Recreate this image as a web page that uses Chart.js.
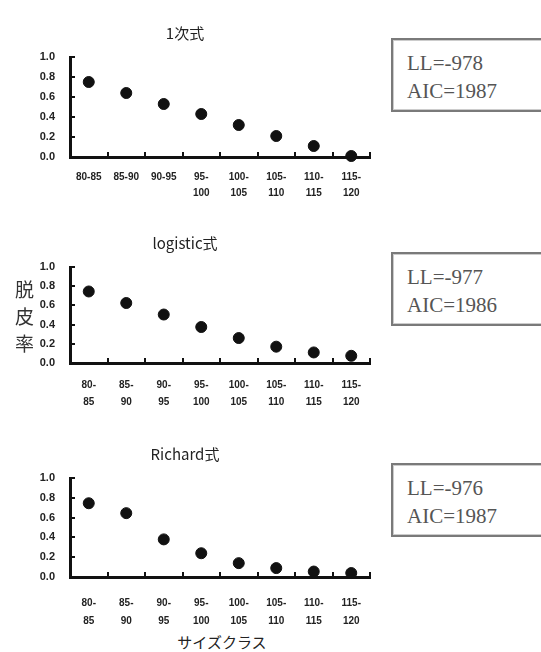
<!DOCTYPE html>
<html>
<head>
<meta charset="utf-8">
<script src="https://cdn.jsdelivr.net/npm/chart.js@4"></script>
<style>
  body { margin: 0; background: #fff; width: 541px; height: 652px; position: relative; overflow: hidden; }
  .plot { position: absolute; left: 0; width: 390px; }
  .box {
    position: absolute; left: 391px; width: 170px; height: 74px;
    border: 2px solid #7a7a7a; box-shadow: inset 0 0 0 1px #ccc;
    font-family: "Liberation Serif", serif; font-size: 21px; color: #555;
    line-height: 28px; padding: 9px 0 0 14px; box-sizing: border-box;
  }
  .ytitle {
    position: absolute; left: 11px; top: 280px;
    writing-mode: vertical-rl; text-orientation: upright;
    font-family: "Noto Sans CJK JP", sans-serif; font-size: 19px; letter-spacing: 8px; color: #333;
  }
  .xtitle {
    position: absolute; left: 172px; top: 631px; width: 100px; text-align: center;
    font-family: "Noto Sans CJK JP", sans-serif; font-size: 15px; color: #222;
  }
</style>
</head>
<body>
<div class="plot" style="top:20px;height:187px"><canvas id="c1"></canvas></div>
<div class="plot" style="top:230px;height:183px"><canvas id="c2"></canvas></div>
<div class="plot" style="top:441px;height:186px"><canvas id="c3"></canvas></div>

<div class="box" style="top:38px">LL=-978<br>AIC=1987</div>
<div class="box" style="top:252px">LL=-977<br>AIC=1986</div>
<div class="box" style="top:463px">LL=-976<br>AIC=1987</div>

<div class="ytitle">脱皮率</div>
<div class="xtitle">サイズクラス</div>

<script>
// size classes (mm) and molting rate
const sizeClasses = ['80-85', '85-90', '90-95', '95-100', '100-105', '105-110', '110-115', '115-120'];
const linearRate = [0.75, 0.64, 0.53, 0.43, 0.32, 0.21, 0.11, 0.01];
const logisticRate = [0.745, 0.625, 0.505, 0.375, 0.26, 0.17, 0.11, 0.075];
const richardRate = [0.745, 0.645, 0.38, 0.24, 0.14, 0.09, 0.055, 0.04];
const titles = ['1次式', 'logistic式', 'Richard式'];
const yMin = 0, yMax = 1, yStep = 0.2;

function wrapLabel(c) {
    const parts = c.split('-');
    return [parts[0] + '-', parts[1]];
}

function makeChart(id, title, values, labels, labelPad, labelLine) {
    const ctx = document.getElementById(id).getContext('2d');
    return new Chart(ctx, {
        type: 'line',
        data: {
            labels: labels,
            datasets: [{
                data: values,
                showLine: false,
                pointRadius: 5.5,
                pointBackgroundColor: '#111',
                pointBorderColor: '#111',
                clip: false
            }]
        },
        options: {
            responsive: true,
            maintainAspectRatio: false,
            animation: false,
            layout: { padding: { top: 4, right: 20, left: 0, bottom: 0 } },
            plugins: {
                legend: { display: false },
                tooltip: { enabled: false },
                title: {
                    display: true,
                    text: title,
                    color: '#222',
                    font: { family: 'Noto Sans CJK JP', size: 15, weight: 'normal', lineHeight: 1.2 },
                    padding: { top: 0, bottom: 15 }
                }
            },
            scales: {
                x: {
                    offset: true,
                    afterFit: function(scale) { scale.height = 50; },
                    border: { display: true, color: '#111', width: 3 },
                    grid: { drawOnChartArea: false, drawTicks: true, tickLength: -5, offset: true, color: '#111', lineWidth: 2 },
                    ticks: {
                        maxRotation: 0, autoSkip: false, padding: labelPad, color: '#222',
                        font: { family: 'Liberation Sans', size: 10, weight: 'bold', lineHeight: labelLine }
                    }
                },
                y: {
                    min: yMin, max: yMax,
                    afterFit: function(scale) { scale.width = 70; },
                    border: { display: true, color: '#111', width: 3 },
                    grid: { drawOnChartArea: false, drawTicks: true, tickLength: -5, color: '#111', lineWidth: 2 },
                    ticks: {
                        stepSize: yStep, padding: 20, color: '#222',
                        font: { family: 'Liberation Sans', size: 11, weight: 'bold' },
                        callback: function(v) { return v.toFixed(1); }
                    }
                }
            }
        }
    });
}

makeChart('c1', titles[0], linearRate, sizeClasses.map((c, i) => i < 3 ? c : wrapLabel(c)), 17, 1.6);
makeChart('c2', titles[1], logisticRate, sizeClasses.map(wrapLabel), 19, 1.7);
makeChart('c3', titles[2], richardRate, sizeClasses.map(wrapLabel), 22, 1.8);
</script>
</body>
</html>
